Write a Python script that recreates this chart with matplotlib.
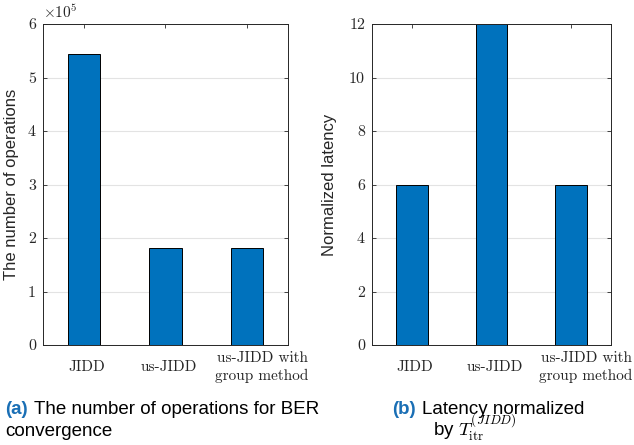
import matplotlib
matplotlib.use("Agg")
import matplotlib.pyplot as plt
from matplotlib.transforms import ScaledTranslation

plt.rcParams['mathtext.fontset'] = 'cm'
plt.rcParams['font.family'] = ['Liberation Sans', 'DejaVu Sans']

categories = ["JIDD", "us-JIDD", "us-JIDD with\ngroup method"]
operations = [5.43e5, 1.81e5, 1.81e5]
latency = [6, 12, 6]

bar_color = "#0072BD"
grid_color = "#e3e3e3"
tick_font = 'cmr10'

fig = plt.figure(figsize=(6.34, 4.45), dpi=100)
ax1 = fig.add_axes([43 / 634, 1 - 345 / 445, 245 / 634, 321 / 445])
ax2 = fig.add_axes([372 / 634, 1 - 345 / 445, 239 / 634, 321 / 445])


def style(ax, ymax, step, scale=1.0):
    ax.set_xlim(0.5, 3.5)
    ax.set_ylim(0, ymax)
    ticks = [i * step for i in range(int(round(ymax / step)) + 1)]
    ax.set_yticks(ticks)
    ax.set_yticklabels(["%d" % round(t / scale) for t in ticks], fontsize=11.5,
                       family=tick_font)
    ax.set_xticks([1, 2, 3])
    ax.set_xticklabels(categories, fontsize=11, family=tick_font, linespacing=1.4,
                       va='center')
    ax.tick_params(direction='in', top=True, right=True, length=3, width=0.6,
                   colors='#262626', labelcolor='#262626', pad=5)
    ax.tick_params(axis='x', pad=16)
    ax.grid(axis='y', color=grid_color, linewidth=0.8)
    ax.set_axisbelow(True)
    for sp in ax.spines.values():
        sp.set_linewidth(0.7)
        sp.set_color('#262626')
    # small rightward nudge of the tick labels, larger for the two-line one
    for lab, dx in zip(ax.get_xticklabels(), [3, 3, 15]):
        lab.set_transform(lab.get_transform() +
                          ScaledTranslation(dx / 100, 0, fig.dpi_scale_trans))


ax1.bar([1, 2, 3], operations, width=0.4, color=bar_color, edgecolor='black', linewidth=0.7)
style(ax1, 6e5, 1e5, scale=1e5)
ax1.set_ylabel("The number of operations", fontsize=12, color='#262626')
ax1.yaxis.set_label_coords(-0.098, 0.5)
ax1.text(0.0, 1.01, r"$\times10^{5}$", transform=ax1.transAxes, fontsize=11,
         color='#262626', ha='left', va='bottom')

ax2.bar([1, 2, 3], latency, width=0.4, color=bar_color, edgecolor='black', linewidth=0.7)
style(ax2, 12, 2)
ax2.set_ylabel("Normalized latency", fontsize=12, color='#262626')
ax2.yaxis.set_label_coords(-0.146, 0.5)

cap_blue = "#1a6fb5"
cap_size = 13.5
y1 = 1 - 414 / 445
y2 = 1 - 436 / 445
fig.text(5 / 634, y1, "(a)", fontsize=cap_size, fontweight='bold', color=cap_blue,
         ha='left', va='baseline')
fig.text(34 / 634, y1, "The number of operations for BER", fontsize=cap_size,
         ha='left', va='baseline')
fig.text(5 / 634, y2, "convergence", fontsize=cap_size, ha='left', va='baseline')

fig.text(392 / 634, y1, "(b)", fontsize=cap_size, fontweight='bold', color=cap_blue,
         ha='left', va='baseline')
fig.text(422 / 634, y1, "Latency normalized", fontsize=cap_size,
         ha='left', va='baseline')
fig.text(433 / 634, y2, r"by $T_{\rm itr}^{(JIDD)}$", fontsize=cap_size,
         ha='left', va='baseline')

fig.savefig("out.png", dpi=100)
